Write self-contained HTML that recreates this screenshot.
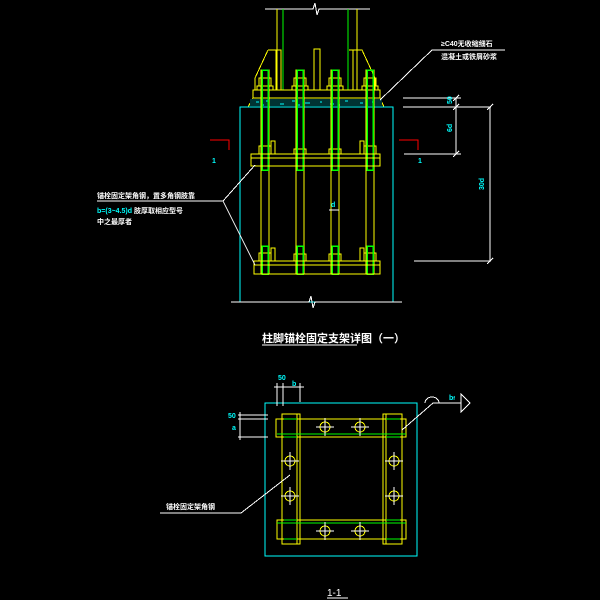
<!DOCTYPE html>
<html><head><meta charset="utf-8"><style>html,body{margin:0;padding:0;background:#000}svg{display:block}</style></head><body>
<svg width="600" height="600" viewBox="0 0 600 600" xmlns="http://www.w3.org/2000/svg" font-family="'Liberation Sans','Noto Sans CJK SC',sans-serif" shape-rendering="crispEdges">
<rect width="600" height="600" fill="#000"/>
<g fill="none" stroke-width="1">
<path d="M265 9H313l2-6 2 12 2-6H370" stroke="#fff"/>
<path d="M277 9V90M357 9V90" stroke="#ff0"/>
<path d="M283 9V90M348 9V90" stroke="#0f0"/>
<path d="M268 50H281V90M268 50L255 78V90M349 50H362L375 78V90M353 50V90M276 50V90" stroke="#ff0"/>
<rect x="314" y="49" width="6" height="41" stroke="#ff0"/>
<rect x="253" y="90" width="127" height="8" stroke="#ff0"/>
<path d="M253 98L248 107H384L380 98" stroke="#ff0"/>
<rect x="250" y="99" width="132" height="7" fill="#033" stroke="none"/>
<path d="M256 102h3M266 101h2M280 104h4M292 101h3M305 103h5M320 102h2M330 104h4M345 101h3M360 103h3M372 102h2M262 105h2M298 105h2M338 105h2" stroke="#0ff"/>
<rect x="240" y="107" width="153" height="195" stroke="#0ff"/>
<g stroke="#ff0">
<rect x="261" y="70" width="8" height="204"/><rect x="296" y="70" width="8" height="204"/><rect x="331" y="70" width="8" height="204"/><rect x="366" y="70" width="8" height="204"/>
<path d="M259 78h12v8h-12zM257 86h16v4h-16zM294 78h12v8h-12zM292 86h16v4h-16zM329 78h12v8h-12zM327 86h16v4h-16zM364 78h12v8h-12zM362 86h16v4h-16z"/>
<path d="M259 146h12v8h-12zM294 149h12v5h-12zM329 149h12v5h-12zM364 146h12v8h-12zM259 253h12v8h-12zM294 254h12v7h-12zM329 254h12v7h-12zM364 253h12v8h-12z"/>
<path d="M271 154V141h4v13M360 154V141h4v13M271 261V248h4v13M360 261V248h4v13"/>
</g>
<g stroke="#0f0" stroke-width="1.5">
<rect x="262" y="70" width="6" height="100"/><rect x="297" y="70" width="6" height="100"/><rect x="332" y="70" width="6" height="100"/><rect x="367" y="70" width="6" height="100"/>
<rect x="262" y="246" width="6" height="28"/><rect x="297" y="246" width="6" height="28"/><rect x="332" y="246" width="6" height="28"/><rect x="367" y="246" width="6" height="28"/>
</g>
<rect x="251" y="154" width="129" height="12" stroke="#ff0"/><path d="M251 158H380" stroke="#ff0"/>
<rect x="254" y="261" width="126" height="13" stroke="#ff0"/><path d="M254 265H380" stroke="#ff0"/>
<path d="M231 302H309l2-6 2 12 2-6H402" stroke="#fff"/>
<path d="M329 210h10" stroke="#fff"/>
<path d="M403 98H461M403 107H491M404 154H461M414 261H491M456 98V154M490 107V261M453 101l6-6M453 110l6-6M453 157l6-6M487 110l6-6M487 264l6-6" stroke="#fff"/>
<path d="M210 140H229V150M399 140H418V150" stroke="#f00"/>
<path d="M97 201H223L255 165M223 201L255 265" stroke="#fff"/>
<path d="M432 50H505M432 50L380 100" stroke="#fff"/>
<path d="M262 345H357" stroke="#fff"/>
<rect x="265" y="403" width="152" height="153" stroke="#0ff"/>
<g stroke="#ff0">
<rect x="276" y="419" width="130" height="18"/><rect x="277" y="520" width="129" height="19"/>
<rect x="282" y="414" width="18" height="130"/><rect x="383" y="414" width="19" height="130"/>
<path d="M297 414V544M386 414V544"/>
<circle cx="325" cy="427" r="5"/><circle cx="360" cy="427" r="5"/><circle cx="325" cy="531" r="5"/><circle cx="360" cy="531" r="5"/>
<circle cx="290" cy="461" r="5"/><circle cx="290" cy="496" r="5"/><circle cx="394" cy="461" r="5"/><circle cx="394" cy="496" r="5"/>
</g>
<path d="M277 434H406M277 523H406M284 419H297M284 437H297M386 419H400M386 437H400M284 520H297M284 539H297M386 520H400M386 539H400" stroke="#0f0"/>
<path d="M316 427h18M325 418v18M351 427h18M360 418v18M316 531h18M325 522v18M351 531h18M360 522v18M281 461h18M290 452v18M281 496h18M290 487v18M385 461h18M394 452v18M385 496h18M394 487v18" stroke="#fff"/>
<path d="M274 387H304M277 383v23M283 383v23M300 383v19M238 415H268M238 419H268M238 437H268M240 412V440" stroke="#fff"/>
<path d="M160 513H241L290 475M402 430L433 403H461M425 403a7 6 0 0 1 14 0M461 394L470 403L461 412Z" stroke="#fff"/>
<path d="M327 598H348" stroke="#fff"/>
</g>
<g font-size="7" fill="#fff" font-weight="bold">
<text x="441" y="46">≥C40无收缩细石</text>
<text x="441" y="59">混凝土或铁屑砂浆</text>
<text x="97" y="198">锚栓固定架角钢，置多角钢肢靠</text>
<text x="97" y="213"><tspan fill="#0ff">b=(3~4.5)d</tspan> 肢厚取相应型号</text>
<text x="97" y="224">中之最厚者</text>
<text x="166" y="509">锚栓固定架角钢</text>
</g>
<g fill="#0ff" font-size="7" font-weight="bold">
<text x="212" y="163">1</text><text x="418" y="163">1</text>
<text x="331" y="207">d</text>
<text x="278" y="380">50</text><text x="292" y="386">b</text>
<text x="228" y="418">50</text><text x="232" y="430">a</text>
<text x="449" y="400">b<tspan font-size="5">f</tspan></text>
<text transform="translate(452,104) rotate(-90)">50</text>
<text transform="translate(452,132) rotate(-90)">6d</text>
<text transform="translate(484,190) rotate(-90)">30d</text>
</g>
<text x="262" y="342" font-size="11" font-weight="bold" fill="#fff">柱脚锚栓固定支架详图（一）</text>
<text x="327" y="596" font-size="10" fill="#fff">1-1</text>
</svg>
</body></html>
